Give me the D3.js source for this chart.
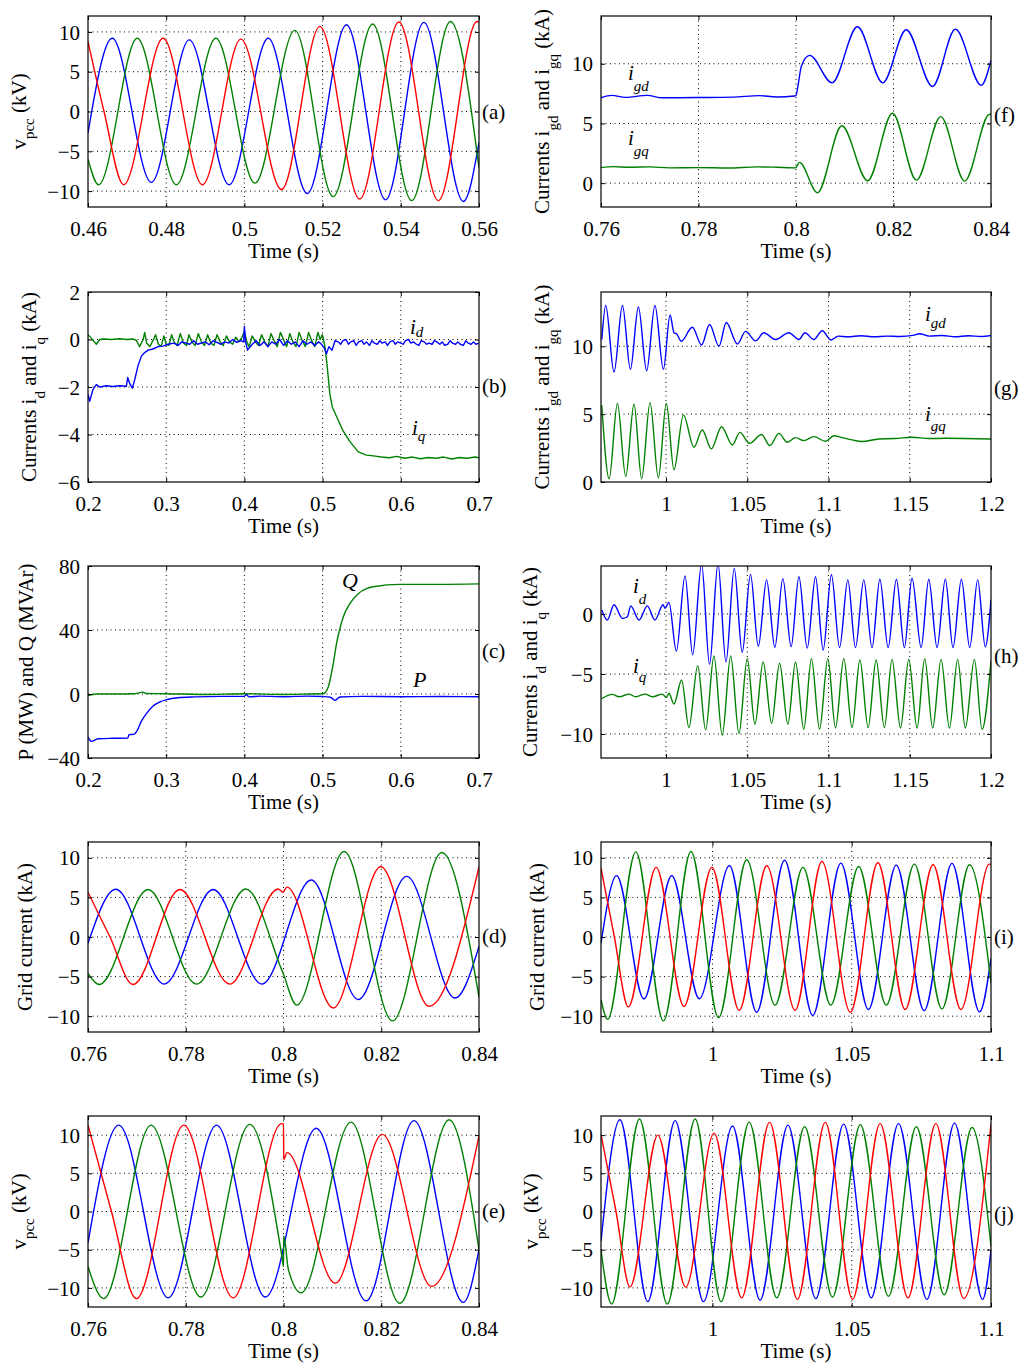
<!DOCTYPE html>
<html><head><meta charset="utf-8">
<script src="https://cdn.jsdelivr.net/npm/d3@7"></script>
<style>body{margin:0;background:#fff}</style>
</head><body><script>
// ---------------- tick values ----------------
const xTicksA = [0.46,0.48,0.5,0.52,0.54,0.56];
const xTicksBC = [0.2,0.3,0.4,0.5,0.6,0.7];
const xTicksDEF = [0.76,0.78,0.8,0.82,0.84];
const xTicksGH = [1,1.05,1.1,1.15,1.2];
const xTicksIJ = [1,1.05,1.1];
const yTicksV = [-10,-5,0,5,10];
const yTicksB = [-6,-4,-2,0,2];
const yTicksC = [-40,0,40,80];
const yTicksF = [0,5,10];
const yTicksG = [0,5,10];
const yTicksH = [-10,-5,0];

// ---------------- (a) vpcc ----------------
const aBlue = [[0.46,-2.7],[0.4662,9.2],[0.4762,-8.9],[0.4859,9.0],[0.4961,-9.2],[0.5061,9.2],[0.5161,-10.3],[0.5261,10.9],[0.5361,-11.1],[0.5459,11.2],[0.556,-11.3],[0.56,-3.9]];
const aRed = [[0.46,8.8],[0.4641,0],[0.4691,-9.2],[0.4792,9.2],[0.4893,-9.2],[0.4991,9.1],[0.5095,-9.8],[0.5193,10.7],[0.5295,-11.0],[0.5395,11.25],[0.5496,-11.2],[0.5595,11.3],[0.56,11.25]];
const aGreen = [[0.46,-6.0],[0.4627,-9.2],[0.4726,9.2],[0.4826,-9.2],[0.4927,9.2],[0.5027,-9.0],[0.5129,10.2],[0.5227,-10.7],[0.5328,11.0],[0.5428,-11.2],[0.5527,11.3],[0.56,-7.1]];

// ---------------- (b) id, iq ----------------
const bId = [[0.2,-2.3],[0.2021,-2.6],[0.2064,-2.1],[0.2107,-1.9],[0.215,-2.0],[0.2235,-1.95],[0.232,-1.98],[0.2405,-1.95],[0.249,-1.97],[0.2508,-1.6],[0.2533,-1.85],[0.2567,-2.05],[0.2597,-1.7],[0.264,-1.1],[0.2683,-0.7],[0.2725,-0.55],[0.2768,-0.45],[0.2832,-0.4],[0.2896,-0.3],[0.296,-0.28],[0.3024,-0.2],
 [0.31,-0.15],[0.315,-0.25],[0.32,-0.1],[0.33,-0.2],[0.335,-0.05],[0.34,-0.2],[0.35,-0.1],[0.355,-0.22],[0.36,-0.05],[0.37,-0.2],[0.375,-0.1],[0.38,-0.15],[0.385,0.0],[0.39,-0.12],[0.395,-0.05],[0.399,-0.1],[0.4,0.55],[0.4015,-0.1],[0.404,-0.45],[0.41,-0.2],[0.415,-0.05],[0.42,-0.25],[0.425,-0.1],[0.43,-0.3],[0.435,-0.1],[0.44,-0.2],[0.445,0.0],[0.45,-0.25],[0.455,-0.05],[0.46,-0.2],[0.465,-0.1],[0.47,-0.3],[0.475,-0.05],[0.48,-0.2],[0.485,-0.1],[0.49,-0.25],[0.495,-0.1],[0.4985,-0.2],[0.502,-0.35],[0.505,-0.6],[0.508,-0.3],[0.512,-0.45],[0.516,-0.05],[0.52,-0.1],
 [0.523,-0.2],[0.526,-0.05],[0.53,0.0],[0.533,-0.2],[0.536,-0.1],[0.54,-0.05],[0.543,-0.25],[0.546,-0.1],[0.55,-0.05],[0.553,-0.2],[0.556,-0.1],[0.56,-0.25],[0.563,-0.05],[0.566,-0.15],[0.57,-0.2],[0.573,-0.05],[0.576,-0.15],[0.58,-0.1],[0.583,-0.25],[0.586,-0.1],[0.59,-0.05],[0.593,-0.2],[0.596,-0.1],[0.6,-0.15],[0.603,-0.2],[0.606,-0.05],[0.61,0.0],[0.613,-0.15],[0.616,-0.1],[0.62,-0.2],[0.623,-0.25],[0.626,-0.05],[0.63,-0.1],[0.633,-0.2],[0.636,-0.15],[0.64,-0.2],[0.643,-0.05],[0.646,-0.1],[0.65,-0.2],[0.653,-0.1],[0.656,-0.25],[0.66,-0.2],[0.663,-0.05],[0.666,-0.15],[0.67,-0.2],[0.673,-0.1],[0.676,-0.2],[0.68,-0.25],[0.683,-0.05],[0.686,-0.15],[0.69,-0.2],[0.693,-0.1],[0.696,-0.2],[0.7,-0.15]];
const bIq = [[0.2,0.2],[0.203,0.1],[0.2107,-0.2],[0.215,0.0],[0.22,0.02],[0.23,0.0],[0.24,0.03],[0.25,0.0],[0.258,0.02],[0.262,-0.05],[0.266,-0.3],[0.2705,0.0],[0.2725,0.3],[0.275,-0.15],[0.279,-0.3],[0.283,-0.05],[0.2865,0.2],[0.29,-0.2],[0.2935,-0.3],[0.297,0.15],[0.3,-0.2],[0.3035,-0.25],[0.307,0.2],[0.31,-0.1],[0.314,-0.25],[0.318,0.25],[0.322,-0.15],[0.326,-0.25],[0.329,0.2],[0.333,-0.1],[0.337,-0.25],[0.341,0.25],[0.345,-0.1],[0.349,-0.25],[0.353,0.2],[0.357,-0.15],[0.361,-0.25],[0.365,0.2],[0.369,-0.1],[0.373,-0.25],[0.377,0.15],[0.381,-0.1],[0.385,-0.2],[0.389,0.1],[0.393,-0.1],[0.397,0.1],[0.4,0.35],[0.403,-0.1],[0.406,-0.3],[0.41,0.15],[0.414,-0.1],[0.418,-0.25],[0.422,0.2],[0.426,-0.1],[0.43,-0.3],[0.434,0.25],[0.438,-0.05],[0.442,-0.3],[0.446,0.3],[0.45,0.0],[0.454,-0.3],[0.458,0.25],[0.462,-0.1],[0.466,-0.3],[0.47,0.3],[0.474,-0.05],[0.478,-0.3],[0.482,0.3],[0.486,-0.05],[0.49,-0.3],[0.494,0.3],[0.497,0.0],[0.4995,0.2],[0.5008,0.05],[0.503,-0.3],[0.5055,-1.0],[0.5093,-2.3],[0.5125,-2.85],[0.52,-3.4],[0.5264,-3.86],[0.535,-4.3],[0.5456,-4.73],[0.556,-4.87],[0.565,-4.9],[0.575,-4.95],[0.585,-4.98],[0.595,-4.92],[0.605,-5.0],[0.615,-4.95],[0.625,-5.02],[0.635,-4.97],[0.645,-5.0],[0.655,-4.95],[0.665,-5.03],[0.675,-4.97],[0.685,-5.0],[0.695,-4.95],[0.7,-4.98]];

// ---------------- (c) P, Q ----------------
const cQ = [[0.2,-1],[0.2107,0],[0.23,0],[0.26,0.2],[0.27,1.2],[0.275,0.3],[0.3,0.2],[0.35,-0.3],[0.4,0.2],[0.45,-0.3],[0.5,0.2],[0.5008,0.2],[0.5072,4.4],[0.5136,18.9],[0.5178,31.5],[0.5221,40.8],[0.5264,48.1],[0.5349,56.5],[0.5456,62.7],[0.5562,65.8],[0.5648,67.0],[0.5989,68.5],[0.65,68.5],[0.7,68.8]];
const cP = [[0.2,-27],[0.2043,-29.6],[0.2128,-28],[0.23,-27.7],[0.2508,-27.6],[0.2525,-25.4],[0.2585,-25.2],[0.2627,-23],[0.2683,-17],[0.2747,-12.3],[0.2832,-7.5],[0.2917,-5],[0.3,-3.6],[0.3152,-2.3],[0.3366,-1.8],[0.37,-1.5],[0.3995,-1.5],[0.4026,-0.4],[0.406,-1.8],[0.42,-1.3],[0.45,-1.7],[0.48,-1.3],[0.5,-1.6],[0.51,-2.0],[0.5157,-4],[0.5221,-1.9],[0.55,-1.5],[0.6,-1.7],[0.65,-1.6],[0.7,-1.7]];

// ---------------- (d) grid current ----------------
const dBlue = [[0.76,-0.8],[0.7657,6.03],[0.7756,-5.95],[0.7856,6.0],[0.7956,-5.95],[0.8057,7.2],[0.8153,-7.9],[0.8252,7.66],[0.8351,-7.7],[0.84,-1.2]];
const dRed = [[0.76,5.66],[0.7645,0],[0.7692,-6.0],[0.7788,6.0],[0.789,-5.95],[0.7989,6.07],[0.7999,5.66],[0.8007,6.3],[0.8102,-8.96],[0.8199,8.87],[0.8298,-8.75],[0.84,8.85]];
const dGreen = [[0.76,-4.6],[0.7623,-6.0],[0.7723,6.0],[0.7822,-5.95],[0.7923,6.07],[0.7998,-4.4],[0.8027,-8.6],[0.8124,10.8],[0.8223,-10.6],[0.8324,10.67],[0.84,-7.6]];

// ---------------- (e) vpcc ----------------
const eBlue = [[0.76,-4.1],[0.7663,11.3],[0.7764,-11.3],[0.7863,11.3],[0.7963,-11.2],[0.8067,10.9],[0.8169,-11.7],[0.8267,11.9],[0.8368,-11.9],[0.84,-5.0]];
const eRed = [[0.76,11.3],[0.7648,0],[0.7699,-11.4],[0.7796,11.3],[0.7897,-11.3],[0.7996,11.5],[0.8,11.45],[0.80005,6.8],[0.8007,7.7],[0.8106,-9.4],[0.8202,10.1],[0.8303,-9.8],[0.84,9.9]];
const eGreen = [[0.76,-7.2],[0.7632,-11.4],[0.7729,11.3],[0.7831,-11.2],[0.7931,11.4],[0.7997,-6.0],[0.8,-7.2],[0.80005,-3.2],[0.801,-7.6],[0.8036,-10.65],[0.8138,11.7],[0.8238,-12.0],[0.8339,12.0],[0.84,-5.0]];

// ---------------- (f) igd, igq ----------------
const fIgd = [[0.76,7.15],[0.7622,7.35],[0.765,7.18],[0.7695,7.35],[0.7725,7.15],[0.78,7.17],[0.787,7.2],[0.7925,7.33],[0.796,7.22],[0.7997,7.3],[0.8,7.34],[0.8005,8.4],[0.8011,9.8],[0.8028,10.7],[0.8074,8.4],[0.8126,13.1],[0.8178,8.4],[0.8226,12.85],[0.828,8.1],[0.8327,12.9],[0.838,8.2],[0.84,10.3]];
const fIgq = [[0.76,1.3],[0.7625,1.38],[0.766,1.33],[0.77,1.36],[0.774,1.28],[0.78,1.3],[0.786,1.27],[0.792,1.36],[0.796,1.33],[0.7999,1.28],[0.8007,1.74],[0.8044,-0.8],[0.8094,4.8],[0.8147,0.2],[0.8198,5.85],[0.8247,0.25],[0.8297,5.57],[0.8346,0.17],[0.8397,5.77],[0.84,5.75]];

// ---------------- (g) igd, igq ----------------
const gIgd = [[0.9605,10.5],[0.9629,13.0],[0.968,8.1],[0.9732,13.0],[0.9781,8.3],[0.983,12.9],[0.9881,8.2],[0.9932,13.0],[0.9984,8.3],[1.0025,12.3],[1.0049,11.0],[1.0066,10.9],[1.0094,10.37],[1.0162,11.4],[1.0219,10.1],[1.0268,11.6],[1.0326,10.0],[1.0371,11.75],[1.0439,10.17],[1.049,11.1],[1.0551,10.4],[1.0602,11.0],[1.0674,10.5],[1.0756,11.0],[1.0818,10.5],[1.0855,11.0],[1.091,10.5],[1.0961,11.15],[1.1016,10.46],[1.106,10.75],[1.112,10.7],[1.12,10.78],[1.128,10.7],[1.136,10.75],[1.144,10.72],[1.152,10.8],[1.156,10.92],[1.162,10.75],[1.17,10.8],[1.178,10.7],[1.186,10.78],[1.194,10.72],[1.2,10.8]];
const gIgq = [[0.9605,5.66],[0.965,0.24],[0.9701,5.78],[0.9752,0.41],[0.9803,5.73],[0.985,0.24],[0.9902,5.85],[0.9953,0.3],[1.0002,5.78],[1.0049,0.9],[1.0107,4.93],[1.0172,2.56],[1.0223,3.83],[1.0279,2.44],[1.0342,4.07],[1.0408,2.73],[1.0455,3.66],[1.0514,2.85],[1.0588,3.5],[1.0639,2.68],[1.0695,3.58],[1.0746,2.93],[1.0797,3.27],[1.0848,3.05],[1.091,3.34],[1.0982,3.0],[1.1033,3.41],[1.1084,3.27],[1.1146,3.1],[1.1207,2.98],[1.1309,3.17],[1.1412,3.2],[1.1514,3.3],[1.1617,3.2],[1.1719,3.22],[1.2,3.17]];

// ---------------- (h) id, iq ----------------
const hId = [[0.9605,0.34],[0.9639,-0.5],[0.968,0.77],[0.9732,-0.37],[0.9762,-0.23],[0.9783,0.68],[0.9834,-0.5],[0.9885,0.68],[0.9932,-0.5],[0.9982,0.77],[0.9994,0.48],[1.0018,0.97],[1.0064,-3.1],[1.0117,3.18],[1.0164,-3.4],[1.0219,4.18],[1.0268,-4.2],[1.032,4.18],[1.0369,-4.0],[1.042,3.8],[1.0469,-3.2],[1.052,3.3],[1.0568,-2.7],[1.0619,2.84],[1.067,-2.78],[1.0719,2.95],[1.077,-2.73],[1.0818,3.1],[1.0869,-2.84],[1.092,3.1],[1.0967,-3.0],[1.1018,3.27],[1.1068,-2.8],[1.1119,2.84],[1.1166,-2.8],[1.1217,2.84],[1.1268,-2.8],[1.1316,2.9],[1.1367,-2.8],[1.1418,2.9],[1.1467,-2.8],[1.1514,2.98],[1.157,-2.8],[1.1617,2.9],[1.1668,-2.8],[1.1719,2.9],[1.1766,-2.8],[1.1818,2.9],[1.1869,-2.8],[1.1918,2.84],[1.1965,-2.73],[1.2,1.2]];
const hIq = [[0.9605,-7.05],[0.967,-6.7],[0.9711,-6.9],[0.9773,-6.68],[0.9814,-6.9],[0.9871,-6.68],[0.9916,-6.9],[0.9977,-6.68],[1.0002,-6.95],[1.0018,-6.6],[1.0049,-7.5],[1.0096,-5.5],[1.0141,-9.46],[1.0195,-4.3],[1.0244,-9.66],[1.0295,-3.5],[1.0346,-10.1],[1.0398,-3.5],[1.0449,-9.97],[1.05,-3.72],[1.0547,-9.18],[1.0598,-4.0],[1.065,-9.1],[1.0699,-4.1],[1.075,-9.18],[1.0797,-4.0],[1.0848,-9.6],[1.0895,-3.72],[1.0945,-9.6],[1.0996,-3.72],[1.1043,-9.5],[1.1094,-3.72],[1.1145,-9.46],[1.1193,-3.83],[1.1244,-9.46],[1.1293,-3.83],[1.1344,-9.46],[1.1391,-3.78],[1.1443,-9.5],[1.1494,-3.78],[1.1545,-9.5],[1.1592,-3.72],[1.1641,-9.5],[1.1693,-3.78],[1.1744,-9.5],[1.1795,-3.78],[1.1842,-9.5],[1.1898,-3.78],[1.1945,-9.6],[1.2,-3.9]];

// ---------------- (i) grid current ----------------
const iBlue = [[0.96,-0.8],[0.9656,7.75],[0.9754,-7.83],[0.9854,7.75],[0.9953,-7.8],[1.0061,9.0],[1.0159,-9.5],[1.0259,9.7],[1.036,-9.9],[1.0461,9.33],[1.056,-9.16],[1.066,9.08],[1.076,-9.3],[1.086,9.3],[1.0959,-9.46],[1.1,-2.7]];
const iRed = [[0.96,8.7],[0.9648,0],[0.9698,-8.83],[0.9798,8.8],[0.9898,-8.75],[0.9998,8.8],[1.0096,-9.25],[1.0195,9.0],[1.0297,-9.25],[1.0393,9.54],[1.0495,-9.5],[1.0594,9.37],[1.0692,-9.16],[1.0792,9.12],[1.0892,-9.16],[1.0994,9.2],[1.1,9.1]];
const iGreen = [[0.96,-7.9],[0.9624,-10.4],[0.9725,10.75],[0.9824,-10.6],[0.9923,10.8],[1.0022,-10.2],[1.0123,9.75],[1.0225,-8.6],[1.0325,8.8],[1.0425,-8.6],[1.0525,8.9],[1.0624,-8.6],[1.0725,9.2],[1.0824,-9.08],[1.0923,9.12],[1.1,-5.8]];

// ---------------- (j) vpcc ----------------
const jBlue = [[0.96,-3.9],[0.9668,12.0],[0.9768,-11.8],[0.9866,11.9],[0.9968,-11.8],[1.0072,11.2],[1.0171,-11.6],[1.0271,11.3],[1.0371,-11.4],[1.0471,11.44],[1.057,-11.3],[1.0668,11.5],[1.077,-11.5],[1.0869,11.57],[1.097,-11.5],[1.1,-5.0]];
const jRed = [[0.96,10.1],[0.9654,0],[0.9704,-9.87],[0.9804,10.0],[0.9904,-9.9],[1.0006,10.26],[1.0105,-11.3],[1.0205,11.66],[1.0305,-11.5],[1.0405,11.66],[1.0503,-11.5],[1.0602,11.5],[1.0702,-11.3],[1.0802,11.5],[1.0902,-11.4],[1.1,11.44]];
const jGreen = [[0.96,-5.0],[0.9638,-12.1],[0.9738,12.1],[0.9838,-12.1],[0.9938,12.1],[1.0031,-11.8],[1.0132,11.7],[1.0231,-11.3],[1.0331,11.1],[1.0431,-11.2],[1.0531,11.35],[1.0632,-11.1],[1.0732,11.1],[1.0832,-10.9],[1.0932,11.0],[1.1,-4.55]];

// ---------------- drawing ----------------
const BLUE="#0000ff", GREEN="#008000", RED="#ff0000";
const SERIF='"Liberation Serif","Times New Roman",Times,serif';
const FS=21;
const MONO=d3.curveMonotoneX, LIN=d3.curveLinear;
const LX=[88,479], RX=[601,991];
const ROWS=[[16,207],[292,482],[566,758],[842,1032],[1116,1307]];

const svg=d3.select("body").append("svg").attr("width",1024).attr("height",1371)
  .style("background","#fff").attr("font-family",SERIF);

function fmt(v){const a=Math.abs(+(+v).toFixed(4));return (v<0?"\u2212":"")+String(a);}

const panels=[
 {id:"a",col:LX,row:ROWS[0],xd:[0.46,0.56],xt:xTicksA,yd:[-12,12],yt:yTicksV,
  ylab:[["v",0],["pcc",1],[" (kV)",0]],ylx:26,sdy:8,tag:"(a)",tagY:119,
  series:[[aBlue,BLUE,MONO],[aGreen,GREEN,MONO],[aRed,RED,MONO]]},
 {id:"b",col:LX,row:ROWS[1],xd:[0.2,0.7],xt:xTicksBC,yd:[-6,2],yt:yTicksB,
  ylab:[["Currents i",0],["d",1],[" and i",0],["q",1],[" (kA)",0]],ylx:36,sdy:9,tag:"(b)",tagY:393,
  series:[[bIq,GREEN,LIN],[bId,BLUE,LIN]],
  ann:[{x:410,y:334,m:"i",s:"d",d:3},{x:412,y:435,m:"i",s:"q",d:6}]},
 {id:"c",col:LX,row:ROWS[2],xd:[0.2,0.7],xt:xTicksBC,yd:[-40,80],yt:yTicksC,
  ylab:[["P (MW) and Q (MVAr)",0]],ylx:33,sdy:0,tag:"(c)",tagY:658,
  series:[[cQ,GREEN,MONO],[cP,BLUE,MONO]],
  ann:[{x:342,y:588,m:"Q"},{x:413,y:687,m:"P"}]},
 {id:"d",col:LX,row:ROWS[3],xd:[0.76,0.84],xt:xTicksDEF,yd:[-12,12],yt:yTicksV,
  ylab:[["Grid current (kA)",0]],ylx:32,sdy:0,tag:"(d)",tagY:943,
  series:[[dBlue,BLUE,MONO],[dGreen,GREEN,MONO],[dRed,RED,MONO]]},
 {id:"e",col:LX,row:ROWS[4],xd:[0.76,0.84],xt:xTicksDEF,yd:[-12.5,12.5],yt:yTicksV,
  ylab:[["v",0],["pcc",1],[" (kV)",0]],ylx:26,sdy:8,tag:"(e)",tagY:1218,
  series:[[eBlue,BLUE,MONO],[eGreen,GREEN,MONO],[eRed,RED,MONO]]},
 {id:"f",col:RX,row:ROWS[0],xd:[0.76,0.84],xt:xTicksDEF,yd:[-2,14],yt:yTicksF,
  ylab:[["Currents i",0],["gd",1],[" and i",0],["gq",1],[" (kA)",0]],ylx:549,sdy:9,tag:"(f)",tagY:122,
  series:[[fIgd,BLUE,MONO],[fIgq,GREEN,MONO]],
  ann:[{x:628,y:80,m:"i",s:"gd",d:11},{x:628,y:145,m:"i",s:"gq",d:11}]},
 {id:"g",col:RX,row:ROWS[1],xd:[0.96,1.2],xt:xTicksGH,yd:[0,14],yt:yTicksG,
  ylab:[["Currents i",0],["gd",1],[" and i",0],["gq",1],[" (kA)",0]],ylx:549,sdy:9,tag:"(g)",tagY:395,
  series:[[gIgd,BLUE,MONO],[gIgq,GREEN,MONO]],
  ann:[{x:925,y:321,m:"i",s:"gd",d:7},{x:925,y:421,m:"i",s:"gq",d:10}]},
 {id:"h",col:RX,row:ROWS[2],xd:[0.96,1.2],xt:xTicksGH,yd:[-12,4],yt:yTicksH,
  ylab:[["Currents i",0],["d",1],[" and i",0],["q",1],[" (kA)",0]],ylx:537,sdy:9,tag:"(h)",tagY:663,
  series:[[hId,BLUE,MONO],[hIq,GREEN,MONO]],
  ann:[{x:633,y:593,m:"i",s:"d",d:11},{x:633,y:673,m:"i",s:"q",d:9}]},
 {id:"i",col:RX,row:ROWS[3],xd:[0.96,1.1],xt:xTicksIJ,yd:[-12,12],yt:yTicksV,
  ylab:[["Grid current (kA)",0]],ylx:544,sdy:0,tag:"(i)",tagY:944,
  series:[[iBlue,BLUE,MONO],[iGreen,GREEN,MONO],[iRed,RED,MONO]]},
 {id:"j",col:RX,row:ROWS[4],xd:[0.96,1.1],xt:xTicksIJ,yd:[-12.5,12.5],yt:yTicksV,
  ylab:[["v",0],["pcc",1],[" (kV)",0]],ylx:538,sdy:8,tag:"(j)",tagY:1221,
  series:[[jBlue,BLUE,MONO],[jGreen,GREEN,MONO],[jRed,RED,MONO]]}
];

const defs=svg.append("defs");

panels.forEach(p=>{
  const [x0,x1]=p.col,[y0,y1]=p.row;
  const x=d3.scaleLinear().domain(p.xd).range([x0,x1]);
  const y=d3.scaleLinear().domain(p.yd).range([y1,y0]);
  const g=svg.append("g");
  // grid
  const dash="1,3.5";
  g.append("g").selectAll("line").data(p.xt.filter(v=>x(v)>x0+1&&x(v)<x1-1)).join("line")
    .attr("x1",d=>x(d)).attr("x2",d=>x(d)).attr("y1",y0).attr("y2",y1)
    .attr("stroke","#000").attr("stroke-width",1).attr("stroke-dasharray",dash);
  g.append("g").selectAll("line").data(p.yt.filter(v=>y(v)>y0+1&&y(v)<y1-1)).join("line")
    .attr("y1",d=>y(d)).attr("y2",d=>y(d)).attr("x1",x0).attr("x2",x1)
    .attr("stroke","#000").attr("stroke-width",1).attr("stroke-dasharray",dash);
  // clip + lines
  const cid="clip-"+p.id;
  defs.append("clipPath").attr("id",cid).append("rect")
    .attr("x",x0).attr("y",y0).attr("width",x1-x0).attr("height",y1-y0);
  const lg=g.append("g").attr("clip-path",`url(#${cid})`);
  p.series.forEach(([data,color,curve])=>{
    const line=d3.line().x(d=>x(d[0])).y(d=>y(d[1])).curve(curve);
    lg.append("path").datum(data).attr("d",line).attr("fill","none")
      .attr("stroke",color).attr("stroke-width",1.4).attr("stroke-linejoin","round");
  });
  // axes (inward ticks, mirrored)
  const gx=g.append("g").attr("transform",`translate(0,${y1})`)
    .call(d3.axisBottom(x).tickValues(p.xt).tickSizeInner(-4).tickSizeOuter(0).tickFormat(fmt));
  const gxt=g.append("g").attr("transform",`translate(0,${y0})`)
    .call(d3.axisTop(x).tickValues(p.xt).tickSizeInner(-4).tickSizeOuter(0).tickFormat(""));
  const gy=g.append("g").attr("transform",`translate(${x0},0)`)
    .call(d3.axisLeft(y).tickValues(p.yt).tickSizeInner(-4).tickSizeOuter(0).tickFormat(fmt));
  const gyr=g.append("g").attr("transform",`translate(${x1},0)`)
    .call(d3.axisRight(y).tickValues(p.yt).tickSizeInner(-4).tickSizeOuter(0).tickFormat(""));
  [gx,gxt,gy,gyr].forEach(a=>{
    a.select(".domain").remove();
    a.attr("font-family",SERIF).attr("font-size",FS);
    a.selectAll(".tick line").attr("stroke","#000");
  });
  gx.selectAll("text").attr("y",29).attr("dy",null).attr("fill","#000");
  gy.selectAll("text").attr("x",-8).attr("dy","0.34em").attr("fill","#000");
  // box
  g.append("rect").attr("x",x0).attr("y",y0).attr("width",x1-x0).attr("height",y1-y0)
    .attr("fill","none").attr("stroke","#000").attr("stroke-width",1.2);
  // x label
  g.append("text").attr("x",(x0+x1)/2).attr("y",y1+51).attr("text-anchor","middle")
    .attr("font-size",FS).attr("fill","#000").text("Time (s)");
  // y label
  const yl=g.append("text").attr("transform",`translate(${p.ylx},${(y0+y1)/2}) rotate(-90)`)
    .attr("text-anchor","middle").attr("font-size",FS).attr("fill","#000");
  let shifted=false;
  p.ylab.forEach(([t,sub])=>{
    const ts=yl.append("tspan").text(t);
    if(sub){ts.attr("font-size",15).attr("dy",p.sdy);shifted=true;}
    else if(shifted){ts.attr("dy",-p.sdy);shifted=false;}
  });
  // tag
  g.append("text").attr("x",x1+3).attr("y",p.tagY).attr("font-size",FS).attr("fill","#000").text(p.tag);
  // annotations
  (p.ann||[]).forEach(a=>{
    const t=g.append("text").attr("x",a.x).attr("y",a.y).attr("font-style","italic")
      .attr("font-size",a.s?21:22).attr("fill","#000");
    t.append("tspan").text(a.m);
    if(a.s) t.append("tspan").attr("font-size",15).attr("dy",a.d).text(a.s);
  });
});
</script></body></html>
